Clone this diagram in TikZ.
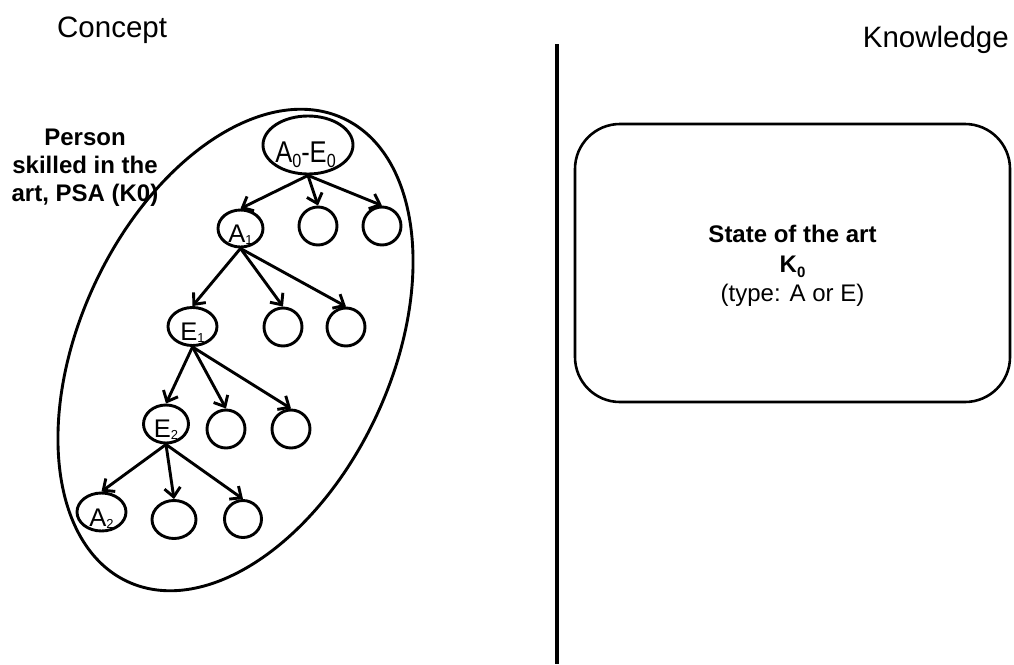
\documentclass[tikz,border=0pt]{standalone}
\usepackage{fontspec}
\setmainfont{Liberation Sans}
\usetikzlibrary{shapes.geometric,arrows.meta}
\newcommand\tlab[2][14]{\raisebox{-#1pt}[0pt][0pt]{#2}}
\newcommand\tsub[1]{\raisebox{-2pt}{\fontsize{13}{13}\selectfont #1}}
\begin{document}
\begin{tikzpicture}[x=1pt,y=-1pt,
  tnode/.style={draw, ellipse, line width=2.9pt, inner sep=0pt, font=\fontsize{25.5}{28}\selectfont},
  cnode/.style={tnode, minimum width=38pt, minimum height=38pt},
  edge/.style={line width=2.9pt, -{Straight Barb[length=9pt,width=16pt]}},
  title/.style={inner sep=0pt, font=\fontsize{29.5}{34}\selectfont},
]
\useasboundingbox (0,0) rectangle (1014,664);

% titles
\node[title, anchor=base west] (concept) at (57,37) {Concept};
\node[title, anchor=base east] (knowledge) at (1009,47) {Knowledge};

% divider
\coordinate (dtop) at (557,44);
\coordinate (dbot) at (557,664);
\draw[line width=4pt] (dtop) -- (dbot);

% state of the art box
\node[draw, rounded corners=45pt, line width=2.6pt, minimum width=435pt, minimum height=278pt,
      inner sep=0pt] (soa) at (792.5,263) {};
\node[align=center, inner sep=0pt, font=\fontsize{24}{29.5}\selectfont] (soatext) at (792.5,266)
  {\textbf{State of the art}\\\textbf{K\raisebox{-5pt}{\fontsize{15}{15}\selectfont\bfseries 0}}\\(type: A or E)};

% PSA ellipse and label
\node[draw, ellipse, line width=2.9pt, minimum width=511pt, minimum height=311pt,
      rotate=65, inner sep=0pt] (psa) at (235.5,350) {};
\node[align=center, anchor=north, inner sep=0pt, font=\bfseries\fontsize{24}{28}\selectfont] (psalabel)
  at (85,129) {Person\\skilled in the\\art, PSA (K0)};

% tree
\node[tnode, minimum width=90pt, minimum height=58pt] (n0) at (308,145)
  {\tlab[17]{\hspace*{-5pt}\scalebox{0.85}[1]{\fontsize{30}{30}\selectfont A\raisebox{-5pt}{\fontsize{19}{19}\selectfont 0}-E\raisebox{-5pt}{\fontsize{19}{19}\selectfont 0}}}};
\node[cnode] (c11) at (318,226) {};
\node[cnode] (c12) at (382,226) {};
\node[tnode, minimum width=45pt, minimum height=37pt] (a1) at (240.5,228.5) {\tlab[13.5]{A\tsub{1}}};

\node[tnode, minimum width=49pt, minimum height=38pt] (e1) at (192.5,326.5) {\tlab[13.5]{E\tsub{1}}};
\node[cnode] (c21) at (283,327) {};
\node[cnode] (c22) at (346,327) {};

\node[tnode, minimum width=45pt, minimum height=38pt] (e2) at (166,424) {\tlab[13]{E\tsub{2}}};
\node[cnode] (c31) at (226,429) {};
\node[cnode] (c32) at (291,429) {};

\node[tnode, minimum width=49pt, minimum height=38pt] (a2) at (101.5,512) {\tlab[14]{A\tsub{2}}};
\node[tnode, minimum width=44pt, minimum height=38pt] (c41) at (174,519.5) {};
\node[cnode, minimum width=37pt, minimum height=37pt] (c42) at (243,519) {};

\draw[edge] (n0.south) -- (a1.north);
\draw[edge] (n0.south) -- (c11.north);
\draw[edge] (n0.south) -- (c12.north);

\draw[edge] (a1.south) -- (e1.north);
\draw[edge] (a1.south) -- (c21.north);
\draw[edge] (a1.south) -- (c22.north);

\draw[edge] (e1.south) -- (e2.north);
\draw[edge] (e1.south) -- (c31.north);
\draw[edge] (e1.south) -- (c32.north);

\draw[edge] (e2.south) -- (a2.north);
\draw[edge] (e2.south) -- (c41.north);
\draw[edge] (e2.south) -- (c42.north);
\end{tikzpicture}
\end{document}
